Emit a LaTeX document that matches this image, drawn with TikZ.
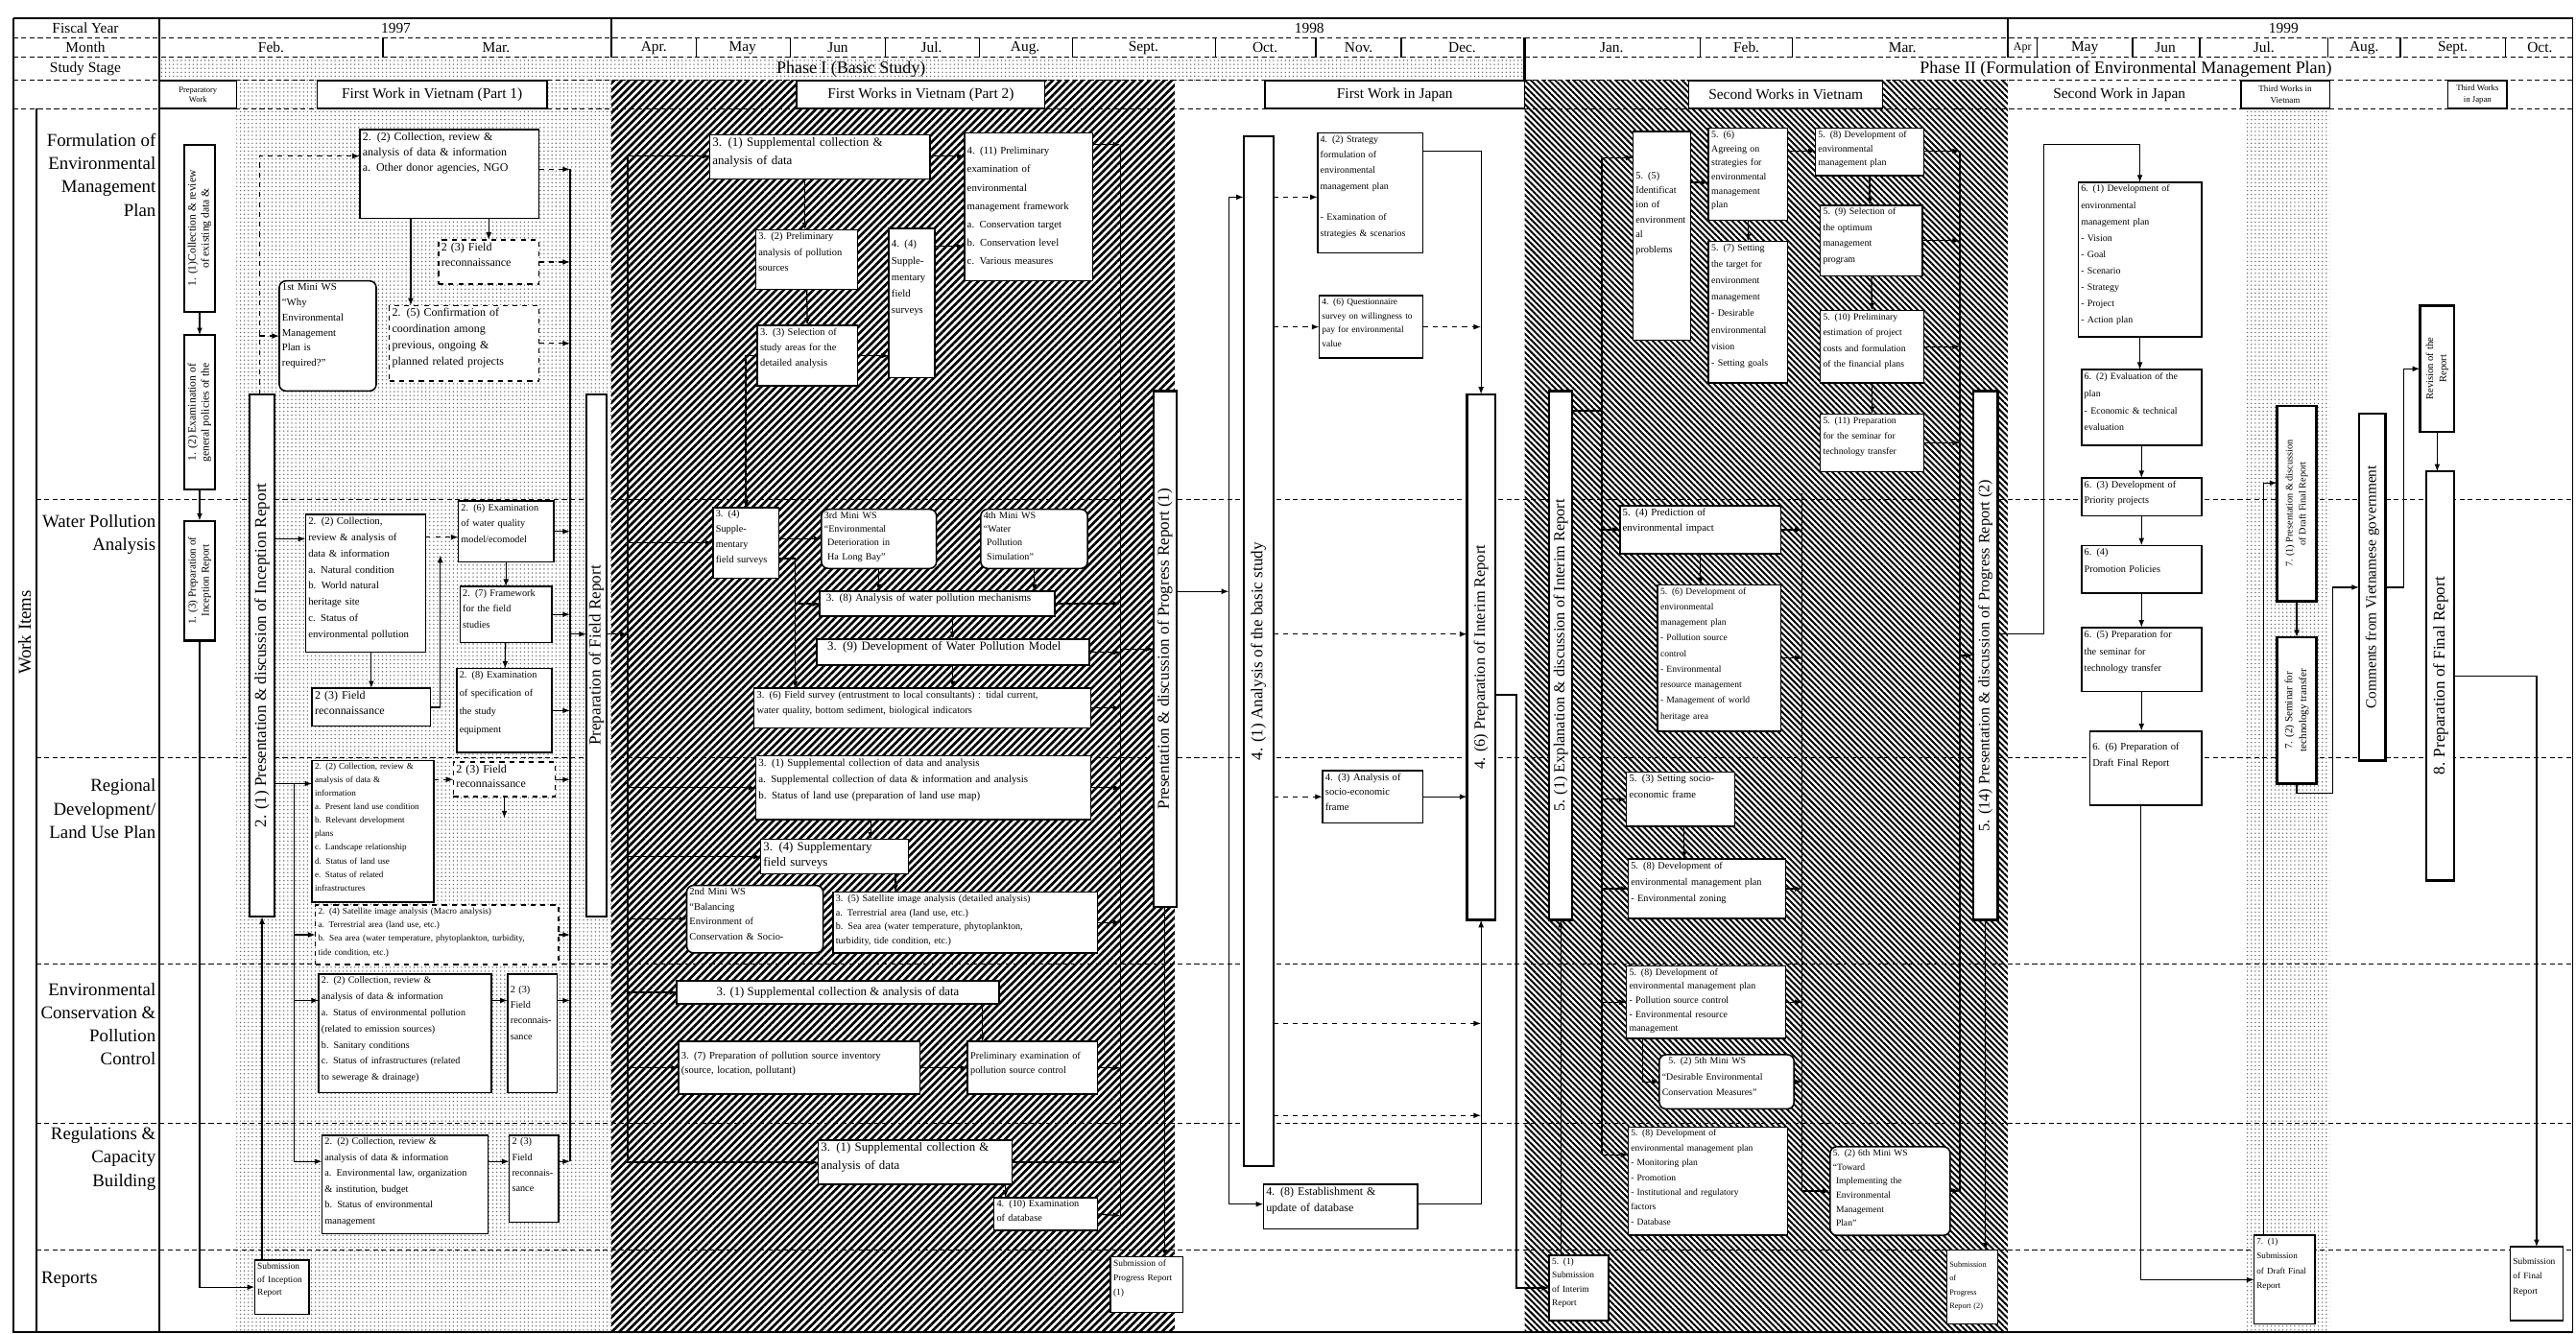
\documentclass[tikz,border=0pt]{standalone}
\usepackage{fontspec}
\setmainfont{Liberation Serif}
\usetikzlibrary{arrows.meta,patterns.meta}
\tikzset{
 bx/.style={draw,fill=white,line width=0.9pt,inner sep=0pt,outer sep=0pt},
 barx/.style={line width=1.3pt},
 bt/.style={inner sep=0pt,align=left,font=\fontsize{6}{7.5}\selectfont},
 ln/.style={line width=0.75pt},
 ar/.style={line width=0.75pt,-{Latex[length=4.5pt,width=3.4pt]}},
 rowsep/.style={line width=0.55pt,dash pattern=on 3pt off 2pt},
 hd/.style={font=\fontsize{9}{10}\selectfont,inner sep=0pt},
 lbl/.style={font=\fontsize{11}{14.2}\selectfont,align=right,inner sep=0pt},
 rb/.style={rounded corners=4pt},
 dotfill/.style={pattern={Dots[distance=2.4pt,radius=0.45pt]},pattern color=black!60},
}
\newcommand\fz[2]{\fontsize{#1}{#2}\selectfont}
\newcommand\EL{\mbox{}\\}
\newcommand\BoxN[8][]{%
 \pgfmathsetmacro\BXw{#5-#3}\pgfmathsetmacro\BXh{#6-#4}\pgfmathsetmacro\BXt{#5-#3-3}%
 \node[bx,#1,minimum width=\BXw pt,minimum height=\BXh pt,anchor=north west] (#2) at (#3,#4) {};%
 \node[bt,#7,text width=\BXt pt,anchor=north west] at ([shift={(1.5pt,-1.5pt)}]#2.north west) {#8};}
\newcommand\CBox[8][]{%
 \pgfmathsetmacro\BXw{#5-#3}\pgfmathsetmacro\BXh{#6-#4}%
 \node[bx,#1,minimum width=\BXw pt,minimum height=\BXh pt,anchor=north west] (#2) at (#3,#4) {};%
 \node[bt,align=center,#7] at (#2.center) {#8};}
\newcommand\BarN[8][]{%
 \pgfmathsetmacro\BXw{#5-#3}\pgfmathsetmacro\BXh{#6-#4}%
 \node[bx,barx,#1,minimum width=\BXw pt,minimum height=\BXh pt,anchor=north west] (#2) at (#3,#4) {};%
 \node[bt,align=center,rotate=90,#7] at (#2.center) {#8};}
\begin{document}
\begin{tikzpicture}[x=1pt,y=-1pt]
\useasboundingbox (0,0) rectangle (1568,812);
\fill[white] (0,0) rectangle (1568,812);
% ---------- textures
\fill[dotfill] (97,35) rectangle (928,49);
\fill[dotfill] (144,49) rectangle (372,811);
\fill[dotfill] (1366,66) rectangle (1418,811);
\fill[pattern={Lines[angle=45,distance=3.2pt,line width=1.55pt]}] (372,49) rectangle (715,811);
\fill[pattern={Lines[angle=-45,distance=2.6pt,line width=1.15pt]}] (928,49) rectangle (1222,811);
% ---------- grid
\draw[line width=0.9pt] (8,11) -- (1566,11);
\foreach \yy in {23,35,49,66} \draw[rowsep] (8,\yy) -- (1566,\yy);
\draw[line width=1pt] (8,11) -- (8,811) -- (1566,811) -- (1566,11);
\draw[line width=1pt] (22,66) -- (22,811);
\draw[line width=1pt] (97,11) -- (97,811);
\draw[line width=1.2pt] (372,11) -- (372,35) (1222,11) -- (1222,35) (928,23) -- (928,49);
\foreach \xx in {233,424,481,539,596,653,740,801,853,1035,1091,1240,1298,1339,1417,1461,1525}
  \draw[line width=0.8pt] (\xx,23) -- (\xx,35);
\foreach \yy in {304,461,587,684,761} \draw[rowsep] (22,\yy) -- (1566,\yy);
% ---------- header text
\node[hd] (fy) at (52,17) {Fiscal Year};
\node[hd] (mo) at (52,29) {Month};
\node[hd] (ss) at (52,42) {Study Stage};
\node[hd] (y97) at (241,17) {1997};
\node[hd] (y98) at (797,17) {1998};
\node[hd] (y99) at (1390,17) {1999};
\foreach \xx/\mm in {165/Feb.,302/Mar.,398/Apr.,452/May,510/Jun,567/Jul.,624/Aug.,696/Sept.,770/Oct.,827/Nov.,890/Dec.,981/Jan.,1063/Feb.,1158/Mar.,1269/May,1318/Jun,1378/Jul.,1439/Aug.,1493/Sept.,1546/Oct.}
  \node[hd] at (\xx,29) {\mm};
\node[hd,font=\fz{7}{8}] (apr99) at (1231,29) {Apr};
\node[font=\fz{10.5}{12},inner sep=0pt] (ph1) at (518,42) {Phase I (Basic Study)};
\node[font=\fz{10.5}{12},inner sep=0pt] (ph2) at (1294,42) {Phase II (Formulation of Environmental Management Plan)};
\CBox{prep}{97}{49}{144}{66}{font=\fz{5}{6}}{Preparatory\\Work}
\CBox{h1}{193}{49}{333}{66}{font=\fz{9}{10}}{First Work in Vietnam (Part 1)}
\CBox{h2}{485}{49}{636}{66}{font=\fz{9}{10}}{First Works in Vietnam (Part 2)}
\CBox{h3}{770}{49}{928}{66}{font=\fz{9}{10}}{First Work in Japan}
\CBox{h4}{1028}{49}{1146}{66}{font=\fz{9}{10}}{Second Works in Vietnam}
\node[hd] (h5) at (1290,57.5) {Second Work in Japan};
\CBox{h6}{1364}{49}{1418}{66}{font=\fz{5.3}{6.5}}{Third Works in\\Vietnam}
\CBox{h7}{1490}{49}{1526}{66}{font=\fz{5.1}{6.5}}{Third Works\\in Japan}
% ---------- row labels
\node[lbl,anchor=north east] (rl1) at (95,81) {Formulation of\\Environmental\\Management\\Plan};
\node[lbl,anchor=north east] (rl2) at (95,313) {Water Pollution\\Analysis};
\node[lbl,anchor=north east] (rl3) at (95,474) {Regional\\Development/\\Land Use Plan};
\node[lbl,anchor=north east] (rl4) at (95,598) {Environmental\\Conservation \&\\Pollution\\Control};
\node[lbl,anchor=north east] (rl5) at (95,686) {Regulations \&\\Capacity\\Building};
\node[lbl,anchor=west] (rl6) at (25,779) {Reports};
\node[font=\fz{11}{12},rotate=90,inner sep=0pt] (wi) at (15,385) {Work Items};
% ---------- Part 1 nodes
\BarN{a11}{112}{88}{131}{190}{font=\fz{6.8}{8}}{1. (1)Collection \& review\\of existing data \&}
\BarN{a12}{112}{204}{131}{298}{font=\fz{6.8}{8}}{1. (2) Examination of\\general policies of the}
\BarN{a13}{112}{317}{131}{390}{font=\fz{6.5}{8}}{1. (3) Preparation of\\Inception Report}
\BoxN{subIR}{155}{767}{188}{800}{font=\fz{5.5}{8}}{Submission\\of Inception\\Report}
\BarN{p21}{152}{240}{167}{558}{font=\fz{10}{11}}{2. (1) Presentation \& discussion of Inception Report}
\BoxN{p22a}{219}{79}{328}{133}{font=\fz{7}{9.5}}{2. (2) Collection, review \&\\analysis of data \& information\\a. Other donor agencies, NGO}
\BoxN[dashed]{p23a}{267}{146}{328}{173}{font=\fz{7}{9.5}}{2 (3) Field\\reconnaissance}
\BoxN[dashed]{p25}{237}{186}{328}{232}{font=\fz{7}{9.8}}{2. (5) Confirmation of\\coordination among\\previous, ongoing \&\\planned related projects}
\BoxN[rb]{ws1}{170}{171}{229}{238}{font=\fz{6.3}{9.2}}{1st Mini WS\\``Why\\Environmental\\Management\\Plan is\\required?''}
\BoxN{p22b}{186}{313}{259}{397}{font=\fz{6.3}{9.9}}{2. (2) Collection,\\review \& analysis of\\data \& information\\a. Natural condition\\b. World natural\\heritage site\\c. Status of\\environmental pollution}
\BoxN{p23b}{190}{419}{262}{442}{font=\fz{7}{9.5}}{2 (3) Field\\reconnaissance}
\BoxN{p26}{279}{305}{337}{342}{font=\fz{6}{9.8}}{2. (6) Examination\\of water quality\\model/ecomodel}
\BoxN{p27}{280}{357}{336}{391}{font=\fz{6}{9.8}}{2. (7) Framework\\for the field\\studies}
\BoxN{p28}{278}{407}{336}{458}{font=\fz{6}{11}}{2. (8) Examination\\of specification of\\the study\\equipment}
\BarN{PFR}{357}{240}{369}{558}{font=\fz{10}{11}}{Preparation of Field Report}
\BoxN{p22c}{190}{463}{264}{549}{font=\fz{5.3}{8.2}}{2. (2) Collection, review \&\\analysis of data \&\\information\\a. Present land use condition\\b. Relevant development\\plans\\c. Landscape relationship\\d. Status of land use\\e. Status of related\\infrastructures}
\BoxN[dashed]{p23c}{276}{464}{338}{485}{font=\fz{7}{9}}{2 (3) Field\\reconnaissance}
\BoxN[dashed]{p24}{192}{551}{340}{587}{font=\fz{5.4}{8.3}}{2. (4) Satellite image analysis (Macro analysis)\\a. Terrestrial area (land use, etc.)\\b. Sea area (water temperature, phytoplankton, turbidity,\\tide condition, etc.)}
\BoxN{p22d}{194}{593}{299}{665}{font=\fz{5.9}{9.8}}{2. (2) Collection, review \&\\analysis of data \& information\\a. Status of environmental pollution\\(related to emission sources)\\b. Sanitary conditions\\c. Status of infrastructures (related\\to sewerage \& drainage)}
\BoxN{p23d}{309}{593}{339}{665}{font=\fz{6}{9.5}}{\EL 2 (3)\\Field\\reconnais-\\sance}
\BoxN{p22e}{196}{691}{297}{751}{font=\fz{6}{9.6}}{2. (2) Collection, review \&\\analysis of data \& information\\a. Environmental law, organization\\\& institution, budget\\b. Status of environmental\\management}
\BoxN{p23e}{310}{691}{340}{744}{font=\fz{6}{9.5}}{2 (3)\\Field\\reconnais-\\sance}
% ---------- Part 2 nodes
\BoxN{q31a}{432}{82}{566}{109}{font=\fz{7.6}{11}}{3. (1) Supplemental collection \&\\analysis of data}
\BoxN{q411}{587}{81}{665}{171}{font=\fz{6.3}{11.2}}{\EL 4. (11) Preliminary\\examination of\\environmental\\management framework\\a. Conservation target\\b. Conservation level\\c. Various measures}
\BoxN{q32}{460}{140}{522}{176}{font=\fz{6.1}{9.5}}{3. (2) Preliminary\\analysis of pollution\\sources}
\BoxN{q44}{541}{139}{569}{230}{font=\fz{6.3}{10}}{\EL 4. (4)\\Supple-\\mentary\\field\\surveys}
\BoxN{q33}{461}{198}{522}{235}{font=\fz{6.1}{9.5}}{3. (3) Selection of\\study areas for the\\detailed analysis}
\BoxN{q34a}{434}{309}{474}{352}{font=\fz{6}{9.3}}{3. (4)\\Supple-\\mentary\\field surveys}
\BoxN[rb]{ws3}{500}{310}{570}{346}{font=\fz{5.9}{8.3}}{3rd Mini WS\\``Environmental\\\ Deterioration in\\\ Ha Long Bay''}
\BoxN[rb]{ws4}{597}{310}{662}{346}{font=\fz{5.9}{8.3}}{4th Mini WS\\``Water\\\ Pollution\\\ Simulation''}
\BoxN{q38}{499}{360}{642}{375}{font=\fz{6.5}{8}}{\ 3. (8) Analysis of water pollution mechanisms}
\BoxN{q39}{497}{389}{663}{405}{font=\fz{7.5}{9}}{\ \ 3. (9) Development of Water Pollution Model}
\BoxN{q36}{459}{419}{664}{443}{font=\fz{6.1}{9.5}}{3. (6) Field survey (entrustment to local consultants) : tidal current,\\water quality, bottom sediment, biological indicators}
\BoxN{q31b}{460}{460}{664}{499}{font=\fz{6.4}{10}}{3. (1) Supplemental collection of data and analysis\\a. Supplemental collection of data \& information and analysis\\b. Status of land use (preparation of land use map)}
\BoxN{q34b}{463}{511}{553}{532}{font=\fz{7.5}{9.5}}{3. (4) Supplementary\\field surveys}
\BoxN[rb]{ws2}{418}{539}{501}{580}{font=\fz{6.1}{9}}{2nd Mini WS\\``Balancing\\Environment of\\Conservation \& Socio-}
\BoxN{q35}{507}{543}{668}{580}{font=\fz{5.9}{8.6}}{3. (5) Satellite image analysis (detailed analysis)\\a. Terrestrial area (land use, etc.)\\b. Sea area (water temperature, phytoplankton,\\turbidity, tide condition, etc.)}
\CBox{q31c}{412}{597}{608}{611}{font=\fz{7.5}{9}}{3. (1) Supplemental collection \& analysis of data}
\BoxN{q37}{413}{634}{560}{666}{font=\fz{6.2}{9}}{\EL 3. (7) Preparation of pollution source inventory\\(source, location, pollutant)}
\BoxN{qpe}{589}{634}{668}{666}{font=\fz{6}{9}}{\EL Preliminary examination of\\pollution source control}
\BoxN{q31d}{498}{694}{616}{721}{font=\fz{7.5}{11}}{3. (1) Supplemental collection \&\\analysis of data}
\BoxN{q410}{605}{729}{668}{749}{font=\fz{6}{8.5}}{4. (10) Examination\\of database}
\BoxN{subPR1}{676}{765}{720}{799}{font=\fz{5.5}{9}}{Submission of\\Progress Report\\(1)}
\BarN{PR1}{702}{238}{716}{552}{font=\fz{10}{11}}{Presentation \& discussion of Progress Report (1)}
% ---------- Japan nodes
\BarN{J41}{757}{83}{775}{710}{font=\fz{10}{11}}{4. (1) Analysis of the basic study}
\BoxN{J42}{802}{81}{866}{154}{font=\fz{5.8}{9.5}}{4. (2) Strategy\\formulation of\\environmental\\management plan\\\EL - Examination of\\strategies \& scenarios}
\BoxN{J46q}{803}{180}{866}{218}{font=\fz{5.5}{8.5}}{4. (6) Questionnaire\\survey on willingness to\\pay for environmental\\value}
\BoxN{J43}{805}{469}{866}{501}{font=\fz{6.2}{9}}{4. (3) Analysis of\\socio-economic\\frame}
\BoxN{J48}{769}{721}{863}{748}{font=\fz{7}{10}}{4. (8) Establishment \&\\update of database}
\BarN{IR}{893}{240}{910}{560}{font=\fz{9.5}{11}}{4. (6) Preparation of Interim Report}
% ---------- Second works nodes
\BoxN{subIR2}{943}{764}{979}{804}{font=\fz{5.5}{8.5}}{5. (1)\\Submission\\of Interim\\Report}
\BarN{E51}{943}{238}{957}{560}{font=\fz{9.5}{11}}{5. (1) Explanation \& discussion of Interim Report}
\BoxN{s55}{994}{80}{1029}{207}{font=\fz{6}{9}}{\EL\EL\EL 5. (5)\\Identificat\\ion of\\environment\\al\\problems}
\BoxN{s56}{1040}{78}{1088}{134}{font=\fz{5.8}{8.6}}{5. (6)\\Agreeing on\\strategies for\\environmental\\management\\plan}
\BoxN{s57}{1040}{147}{1088}{233}{font=\fz{5.8}{10}}{5. (7) Setting\\the target for\\environment\\management\\- Desirable\\environmental\\vision\\- Setting goals}
\BoxN{s58}{1105}{78}{1171}{107}{font=\fz{5.8}{8.6}}{5. (8) Development of\\environmental\\management plan}
\BoxN{s59}{1108}{125}{1170}{168}{font=\fz{5.8}{9.6}}{5. (9) Selection of\\the optimum\\management\\program}
\BoxN{s510}{1108}{189}{1171}{233}{font=\fz{5.7}{9.6}}{5. (10) Preliminary\\estimation of project\\costs and formulation\\of the financial plans}
\BoxN{s511}{1108}{252}{1171}{287}{font=\fz{5.7}{9.6}}{5. (11) Preparation\\for the seminar for\\technology transfer}
\BoxN{s54}{986}{308}{1084}{337}{font=\fz{6.3}{9.5}}{5. (4) Prediction of\\environmental impact}
\BoxN{s56b}{1009}{356}{1084}{445}{font=\fz{5.6}{9.5}}{5. (6) Development of\\environmental\\management plan\\- Pollution source\\control\\- Environmental\\resource management\\- Management of world\\heritage area}
\BoxN{s53}{990}{470}{1056}{503}{font=\fz{6.2}{9.5}}{5. (3) Setting socio-\\economic frame}
\BoxN{s58a}{991}{523}{1087}{559}{font=\fz{6}{10}}{5. (8) Development of\\environmental management plan\\- Environmental zoning}
\BoxN{s58b}{990}{588}{1087}{632}{font=\fz{5.8}{8.5}}{5. (8) Development of\\environmental management plan\\- Pollution source control\\- Environmental resource\\management}
\BoxN[rb]{ws5}{1010}{642}{1092}{675}{font=\fz{5.8}{9.5}}{\ \ 5. (2) 5th Mini WS\\``Desirable Environmental\\Conservation Measures''}
\BoxN{s58c}{991}{686}{1088}{752}{font=\fz{5.6}{9}}{5. (8) Development of\\environmental management plan\\- Monitoring plan\\- Promotion\\- Institutional and regulatory\\factors\\- Database}
\BoxN[rb]{ws6}{1114}{698}{1187}{752}{font=\fz{5.6}{8.6}}{5. (2) 6th Mini WS\\``Toward\\\ Implementing the\\\ Environmental\\\ Management\\\ Plan''}
\BoxN{subPR2}{1185}{761}{1216}{806}{font=\fz{4.8}{8.5}}{\EL Submission of\\Progress\\Report (2)}
\BarN{P514}{1201}{238}{1216}{560}{font=\fz{9.5}{11}}{5. (14) Presentation \& discussion of Progress Report (2)}
% ---------- Phase II nodes
\BoxN{t61}{1265}{111}{1340}{205}{font=\fz{5.8}{10}}{6. (1) Development of\\environmental\\management plan\\- Vision\\- Goal\\- Scenario\\- Strategy\\- Project\\- Action plan}
\BoxN{t62}{1267}{225}{1340}{271}{font=\fz{5.8}{10.5}}{6. (2) Evaluation of the\\plan\\- Economic \& technical\\evaluation}
\BoxN{t63}{1267}{291}{1340}{314}{font=\fz{6}{9.5}}{6. (3) Development of\\Priority projects}
\BoxN{t64}{1267}{332}{1340}{361}{font=\fz{6}{10.5}}{6. (4)\\Promotion Policies}
\BoxN{t65}{1267}{382}{1340}{421}{font=\fz{6}{10.5}}{6. (5) Preparation for\\the seminar for\\technology transfer}
\BoxN{t66}{1272}{445}{1340}{490}{font=\fz{6.2}{10}}{\EL 6. (6) Preparation of\\Draft Final Report}
\BoxN{subDF}{1372}{752}{1409}{806}{font=\fz{5.3}{9}}{7. (1)\\Submission\\of Draft Final\\Report}
\BarN{u71}{1386}{247}{1410}{366}{font=\fz{6}{8}}{7. (1) Presentation \& discussion\\of Draft Final Report}
\BarN{u72}{1386}{388}{1410}{477}{font=\fz{6.5}{8.5}}{7. (2) Seminar for\\technology transfer}
\BarN{CV}{1436}{252}{1452}{463}{font=\fz{9}{10}}{Comments from Vietnamese government}
\BarN{RV}{1473}{186}{1494}{263}{font=\fz{6.2}{8}}{Revision of the\\Report}
\BarN{F8}{1477}{287}{1494}{536}{font=\fz{10}{11}}{8. Preparation of Final Report}
\BoxN{subF}{1528}{759}{1560}{804}{font=\fz{5.5}{9}}{\EL Submission\\of Final\\Report}
% ---------- Part 1 connectors
\draw[ar] (a11) -- (a12);
\draw[ar] (a12) -- (a13);
\draw[ar] (a13.south) |- (subIR.west);
\draw[ar] (subIR.north -| p21) -- (p21.south);
\coordinate (d1) at (158,95);
\draw[ar,dashed] (p21.north -| d1) -- (d1) -- (p22a.west |- d1);
\draw[ar,dashed] (d1 |- ws1.west) -- (ws1.west);
\draw[ar] (p22a.south -| p23a) -- (p23a.north);
\draw[ar] (p22a.south -| 250,0) -- (p25.north -| 250,0);
\coordinate (L1t) at (347,103);
\coordinate (L1b) at (347,707);
\draw[ln] (L1t) -- (L1b);
\draw[ar,dashed] (p22a.east |- L1t) -- (L1t);
\draw[ar,dashed] (p23a.east) -- (p23a.east -| L1t);
\draw[ar,dashed] (p25.east) -- (p25.east -| L1t);
\draw[ar] (p21.east |- 0,328) -- (p22b.west |- 0,328);
\draw[ar,dashed] (p22b.east |- 0,327) -- (p26.west |- 0,327);
\coordinate (c268) at (268,338);
\draw[ar] (p23b.east) -| (c268);
\draw[ar] (p22b.south -| 226,0) -- (p23b.north -| 226,0);
\draw[ar] (p26) -- (p27);
\draw[ar] (p27) -- (p28);
\draw[ar] (p26.east) -- (p26.east -| L1t);
\draw[ar] (p27.east) -- (p27.east -| L1t);
\draw[ar] (p28.east) -- (p28.east -| L1t);
\draw[ar] (L1t |- 0,386) -- (PFR.west |- 0,386);
\coordinate (L0t) at (179,477);
\coordinate (L0b) at (179,707);
\draw[ln] (p21.east |- L0t) -- (L0t) -- (L0b);
\draw[ar] (L0t) -- (p22c.west |- L0t);
\draw[ar] (L0t |- p24.west) -- (p24.west);
\draw[ar] (L0t |- 0,609) -- (p22d.west |- 0,609);
\draw[ar] (L0b) -- (p22e.west |- L0b);
\draw[ar,dashed] (p22c.east |- p23c.west) -- (p23c.west);
\draw[ar] (p23c.east) -- (p23c.east -| L1t);
\draw[ar] (p23c.south) -- (p23c.south |- 0,498);
\draw[ar] (p24.east) -- (p24.east -| L1t);
\draw[ar] (p22d.east |- 0,609) -- (p23d.west |- 0,609);
\draw[ar] (p23d.east |- 0,609) -- (L1t |- 0,609);
\draw[ar] (p22e.east |- L0b) -- (p23e.west |- L0b);
\draw[ar] (p23e.east |- L0b) -- (L1b);
% ---------- Part 2 connectors
\coordinate (L2t) at (382,95);
\coordinate (L2b) at (382,708);
\draw[ln] (L2t) -- (L2b);
\draw[ar] (PFR.east |- 0,386) -- (L2t |- 0,386);
\draw[ar] (L2t) -- (q31a.west |- L2t);
\foreach \nn in {q34a,q31b,q34b,ws2,q31c,q37,q31d}
  \draw[ar] (L2t |- \nn.west) -- (\nn.west);
\coordinate (L4t) at (484,340);
\draw[ar] (q34a.east |- L4t) -- (L4t) -- (q36.north -| L4t);
\draw[ar] (L4t |- q38.west) -- (q38.west);
\draw[ar] (q31a.south -| 490,0) -- (q32.north -| 490,0);
\draw[ar] (q32) -- (q33);
\draw[ar] (q33.east) -- (q44.west |- q33.east);
\draw[ar] (q31a.east |- 0,95) -- (q411.west |- 0,95);
\draw[ar] (q44.east |- 0,150) -- (q411.west |- 0,150);
\draw[ar] (q33.west) -| (q34a.north);
\draw[ar] (q34a.east |- ws3.west) -- (ws3.west);
\draw[ar] (ws3.south) -- (ws3.south |- q38.north);
\draw[ar] (ws4.south) -- (ws4.south |- q38.north);
\draw[ar] (q38.south -| 580,0) -- (q39.north -| 580,0);
\draw[ar] (q39.south -| 580,0) -- (q36.north -| 580,0);
\draw[ar] (q31b.south -| 530,0) -- (q34b.north -| 530,0);
\draw[ar] (q34b.south -| 545,0) -- (q35.north -| 545,0);
\draw[ar] (q31c.south -| 598,0) -- (qpe.north -| 598,0);
\draw[ar] (q37.east) -- (qpe.west);
\draw[ar] (q31d.south -| 612,0) -- (q410.north -| 612,0);
\coordinate (L3t) at (682,88);
\coordinate (L3b) at (682,740);
\draw[ln] (L3t) -- (L3b);
\draw[ar] (q411.east |- L3t) -- (L3t);
\foreach \nn in {q38,q39,q36,q31b,q35,qpe,q31d}
  \draw[ar] (\nn.east) -- (\nn.east -| L3t);
\draw[ar] (q410.east) -- (L3b);
\draw[ar] (L3t |- PR1.west) -- (PR1.west);
\draw[ar] (PR1.south) -- (subPR1.north -| PR1.south);
% ---------- Japan connectors
\coordinate (LJt) at (748,120);
\coordinate (LJb) at (748,733);
\draw[ln] (LJt) -- (LJb);
\draw[ar] (PR1.east |- 0,360) -- (LJt |- 0,360);
\draw[ar] (LJt) -- (J41.west |- LJt);
\draw[ar] (LJb) -- (J48.west |- LJb);
\draw[ar,dashed] (J41.east |- 0,120) -- (J42.west |- 0,120);
\draw[ar,dashed] (J41.east |- J46q.west) -- (J46q.west);
\draw[ar,dashed] (J41.east |- 0,386) -- (IR.west |- 0,386);
\draw[ar,dashed] (J41.east |- J43.west) -- (J43.west);
\draw[ar] (J43.east) -- (IR.west |- J43.east);
\coordinate (LKt) at (901.5,92);
\coordinate (LKb) at (901.5,733);
\draw[ar] (J42.east |- LKt) -- (LKt) -- (IR.north);
\draw[ar,dashed] (J46q.east) -- (J46q.east -| LKt);
\draw[ar] (LKb) -- (IR.south);
\draw[ln] (J48.east |- LKb) -- (LKb);
\draw[ar,dashed] (J41.east |- 0,623) -- (LKb |- 0,623);
\draw[ar,dashed] (J41.east |- 0,679) -- (LKb |- 0,679);
\coordinate (LI) at (923,784);
\draw[ar] (IR.east |- 0,423) -| (LI) -- (subIR2.west);
% ---------- Second works connectors
\draw[ar] (subIR2.north -| E51) -- (E51.south);
\coordinate (L5t) at (975,96);
\coordinate (L5b) at (975,703);
\draw[ln] (E51.east |- 0,250) -- (L5t |- 0,250);
\draw[ln] (L5t) -- (L5b);
\draw[ar] (L5t) -- (s55.west |- L5t);
\foreach \nn in {s54,s53,s58a,s58b}
  \draw[ar] (L5t |- \nn.west) -- (\nn.west);
\draw[ar] (L5b) -- (s58c.west |- L5b);
\draw[ar] (s55.east |- 0,111) -- (s56.west |- 0,111);
\draw[ar] (s56) -- (s57);
\draw[ar] (s56.east |- 0,92) -- (s58.west |- 0,92);
\draw[ar] (s58.south) -- (s58.south |- s59.north);
\draw[ar] (s59) -- (s510);
\draw[ar] (s510) -- (s511);
\draw[ar] (s54.south -| 1035,0) -- (s56b.north -| 1035,0);
\draw[ar] (s53.south -| 1025,0) -- (s58a.north -| 1025,0);
\draw[ar] (s58b.south -| 1000,0) |- (ws5.west);
\coordinate (L7t) at (1097,300);
\coordinate (L7b) at (1097,725);
\draw[ln] (L7t) -- (L7b);
\foreach \nn in {s54,s56b,s58a,s58b,ws5}
  \draw[ar] (\nn.east) -- (\nn.east -| L7t);
\draw[ar] (L7b) -- (ws6.west |- L7b);
\coordinate (L6t) at (1193,92);
\coordinate (L6b) at (1193,725);
\draw[ln] (L6t) -- (L6b);
\draw[ar] (s58.east |- L6t) -- (L6t);
\foreach \nn in {s59,s510,s511}
  \draw[ar] (\nn.east) -- (\nn.east -| L6t);
\draw[ar] (ws6.east |- L6b) -- (L6b);
\draw[ar] (L6t |- P514.west) -- (P514.west);
\draw[ar] (P514.south) -- (subPR2.north -| P514.south);
% ---------- Phase II connectors
\coordinate (M1) at (1244,88);
\draw[ar] (P514.east |- 0,386) -| (M1) -| (t61.north);
\draw[ar] (t61.south) -- (t61.south |- t62.north);
\draw[ar] (t62.south) -- (t62.south |- t63.north);
\draw[ar] (t63.south) -- (t63.south |- t64.north);
\draw[ar] (t64.south) -- (t64.south |- t65.north);
\draw[ar] (t65.south) -- (t65.south |- t66.north);
\draw[ar] (t66.south -| 1303,0) |- (subDF.west);
\coordinate (M2) at (1378,294);
\draw[ar] (subDF.north -| M2) -- (M2) -- (u71.west |- M2);
\draw[ar] (u71) -- (u72);
\coordinate (M3) at (1420,483);
\draw[ar] (u72.south) |- (M3) |- (CV.west);
\draw[ar] (CV.east) -| ([xshift=-10pt]RV.west) -- (RV.west);
\draw[ar] (RV.south) -- (RV.south |- F8.north);
\draw[ar] (F8.east) -| (subF.north);
\end{tikzpicture}
\end{document}
